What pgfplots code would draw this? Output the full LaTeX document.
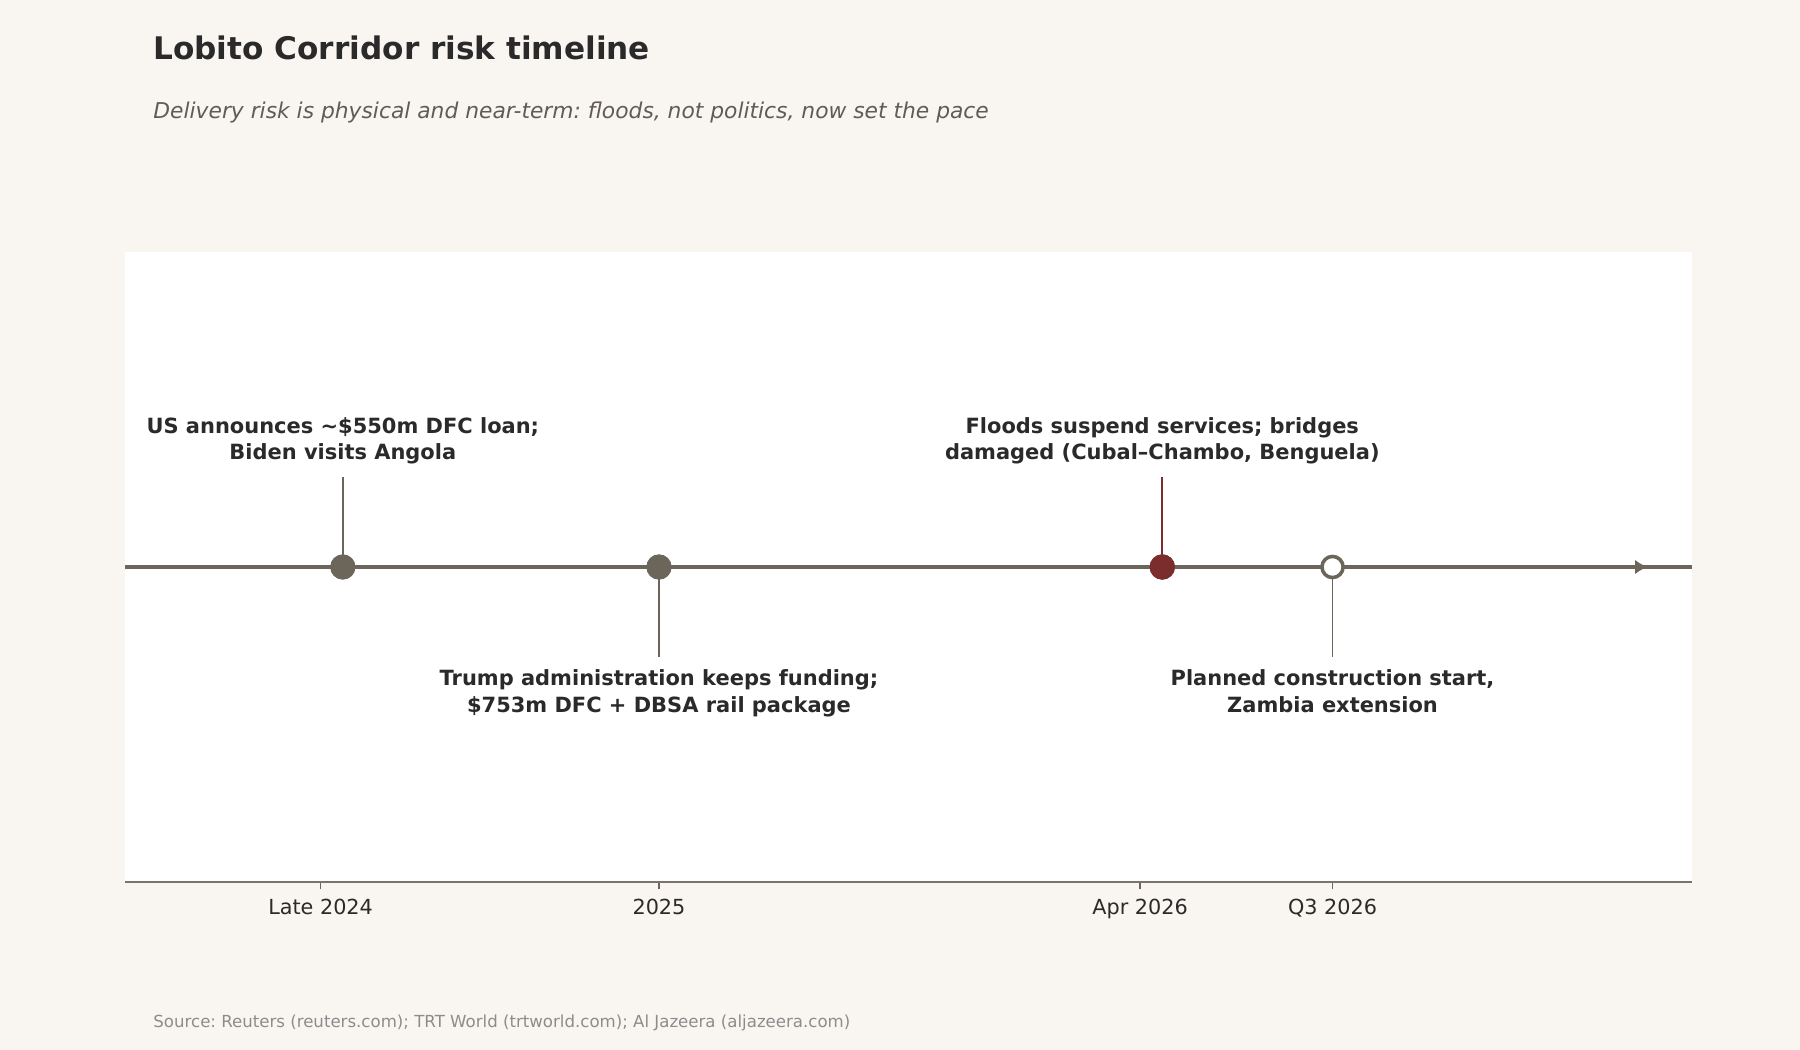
\documentclass[border=0pt]{standalone}
\usepackage{pgfplots}
\pgfplotsset{compat=1.18}
\usepackage{fontspec}
\setmainfont{DejaVu Sans}
\usetikzlibrary{arrows.meta}
\frenchspacing

\definecolor{bg}{HTML}{F9F6F1}
\definecolor{line}{HTML}{6B655A}
\definecolor{flood}{HTML}{7B2D2D}
\definecolor{ink}{HTML}{2A2A2A}
\definecolor{sub}{HTML}{605B55}
\definecolor{src}{HTML}{8C8C8C}

% x: days from 1 Jan 2025
\pgfplotstableread{
x    y
-299 0
0    0
476  0
}\solidev
\pgfplotstableread{
x   y
637 0
}\openev

\begin{document}
\begin{tikzpicture}
\fill[bg] (0,0) rectangle (12in,7in);

\node[anchor=base west, inner sep=0pt, font=\fontsize{15}{18}\selectfont\bfseries, text=ink]
  at (1.02in,6.605in) {Lobito Corridor risk timeline};
\node[anchor=base west, inner sep=0pt, font=\fontsize{10.5}{13}\selectfont\itshape, text=sub]
  at (1.02in,6.21in) {Delivery risk is physical and near-term: floods, not politics, now set the pace};
\node[anchor=base west, inner sep=0pt, font=\fontsize{8}{10}\selectfont, text=src]
  at (1.02in,0.15in) {Source: Reuters (reuters.com); TRT World (trtworld.com); Al Jazeera (aljazeera.com)};

\begin{axis}[
    at={(0.8333in,1.12in)}, anchor=south west,
    scale only axis,
    width=10.447in, height=4.2in,
    xmin=-505, xmax=977, ymin=-1, ymax=1,
    axis y line=none,
    axis x line*=bottom,
    x axis line style={-, draw=line!90, line width=0.7pt},
    axis background/.style={fill=white},
    xtick={-320,0,455,637},
    xticklabels={Late 2024,2025,Apr 2026,Q3 2026},
    tick align=outside,
    major tick length=3.5pt,
    x tick style={draw=line, line width=0.6pt},
    xticklabel style={font=\fontsize{10}{12}\selectfont, text=ink, yshift=-1.1pt},
    clip=false,
]
% timeline
\addplot[line, line width=1.6pt] coordinates {(-505,0) (977,0)};
\addplot[line, line width=1.3pt, -{Latex[length=6pt,width=7pt]}] coordinates {(899,0) (935,0)};
% stems
\addplot[line, line width=0.8pt] coordinates {(-299,0) (-299,0.286)};
\addplot[line, line width=0.8pt] coordinates {(0,0) (0,-0.286)};
\addplot[flood, line width=0.8pt] coordinates {(476,0) (476,0.286)};
\addplot[line, line width=0.8pt] coordinates {(637,0) (637,-0.286)};
% markers
\addplot[only marks, mark=*, mark size=5.9pt, draw=line, fill=line] table[x=x,y=y] {\solidev};
\addplot[only marks, mark=*, mark size=5.9pt, draw=flood, fill=flood] coordinates {(476,0)};
\addplot[only marks, mark=*, mark size=5.1pt, draw=line, fill=white, line width=1.7pt] table[x=x,y=y] {\openev};
% labels
\tikzset{evlab/.style={align=center, inner sep=0pt, text=ink, font=\fontsize{10.1}{13}\selectfont\bfseries}}
\node[evlab, anchor=south] at (axis cs:-299,0.324) {US announces \textasciitilde\$550m DFC loan;\\Biden visits Angola};
\node[evlab, anchor=north] at (axis cs:0,-0.324) {Trump administration keeps funding;\\\$753m DFC + DBSA rail package};
\node[evlab, anchor=south] at (axis cs:476,0.324) {Floods suspend services; bridges\\damaged (Cubal--Chambo, Benguela)};
\node[evlab, anchor=north] at (axis cs:637,-0.324) {Planned construction start,\\Zambia extension};
\end{axis}
\end{tikzpicture}
\end{document}
